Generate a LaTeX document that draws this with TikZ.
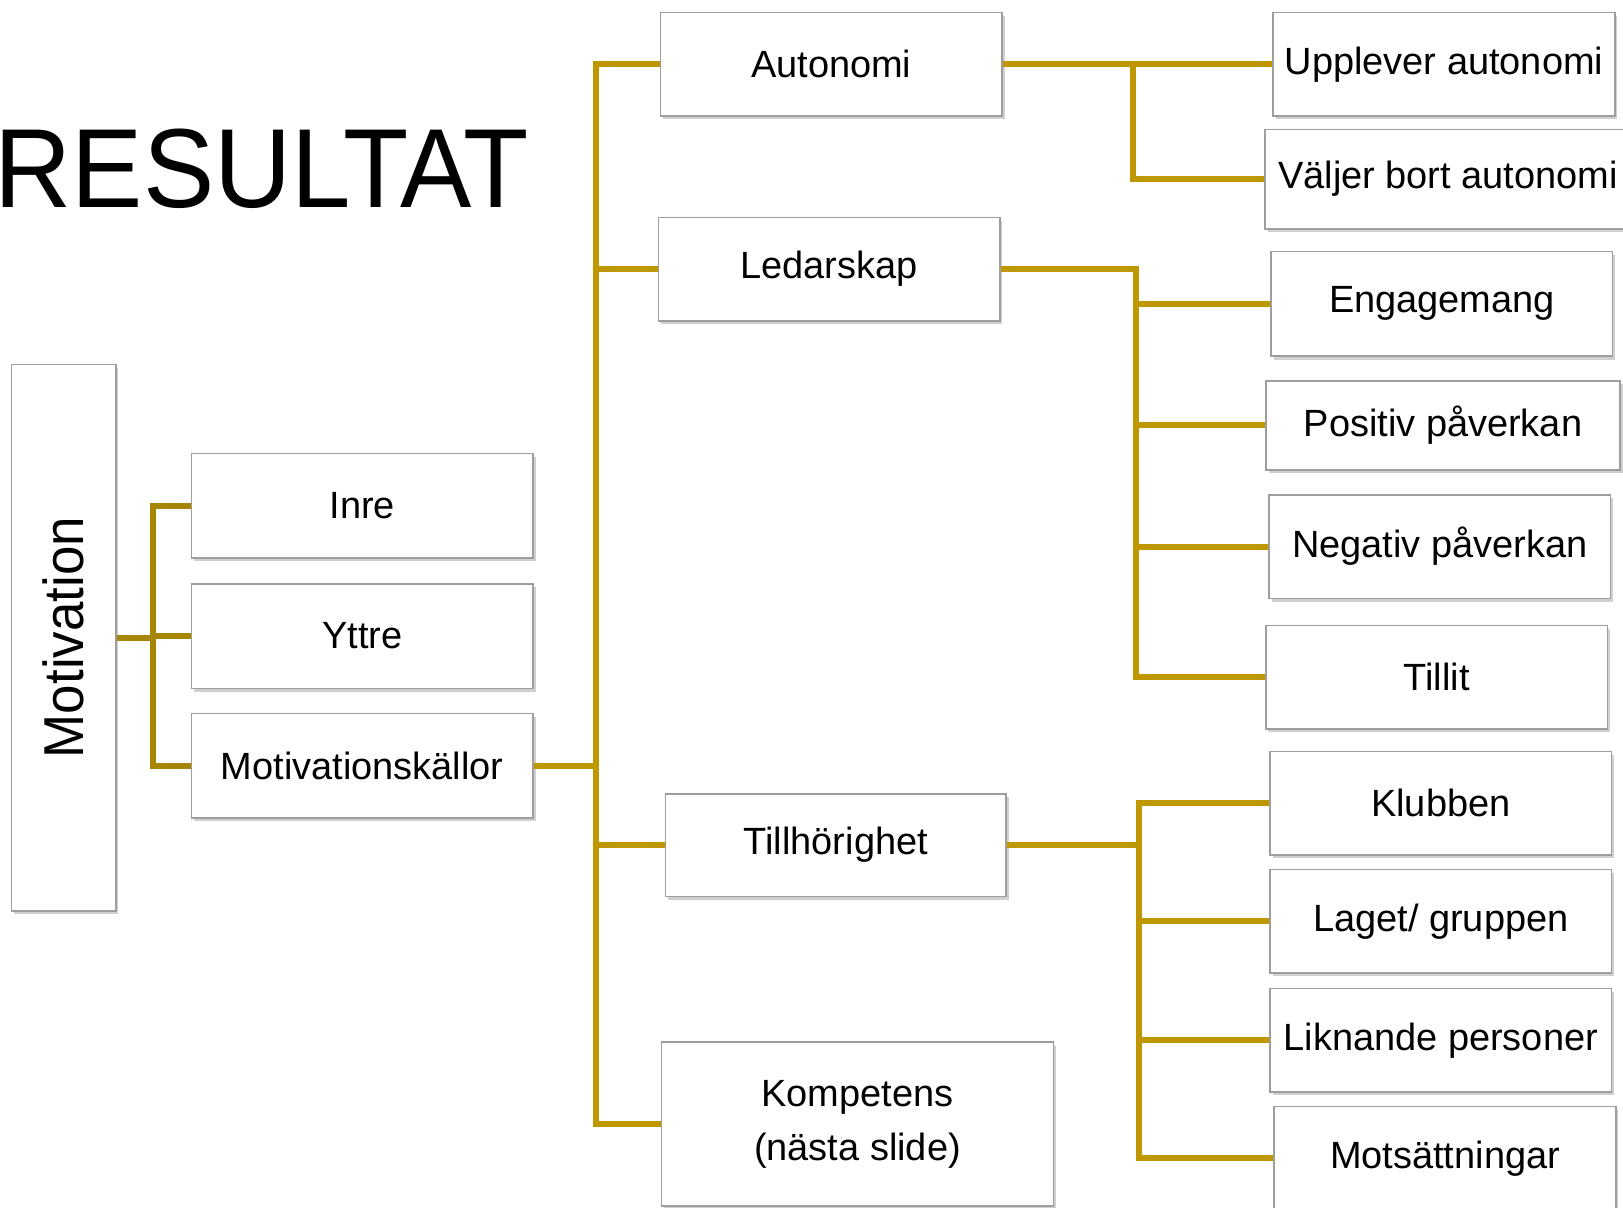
\documentclass[tikz,border=0pt]{standalone}
\usepackage{fontspec}
\setmainfont{Liberation Sans}
\usetikzlibrary{shadows}

\definecolor{linkgold}{RGB}{191,152,0}
\definecolor{linkolive}{RGB}{166,134,0}

\begin{document}
\begin{tikzpicture}[
    x=0.1mm, y=-0.1mm,
    box/.style={draw=black!38, line width=0.15mm, fill=white, inner sep=0pt,
        align=center, font=\fontsize{10.8}{15.3}\selectfont,
        drop shadow={shadow xshift=0.25mm, shadow yshift=-0.35mm,
            opacity=0.3, fill=black!60}},
    size/.style 2 args={minimum width=#1, minimum height=#2},
    link/.style={draw=linkgold, line width=0.6mm},
    innerlink/.style={draw=linkolive, line width=0.6mm}
]

\useasboundingbox (0,0) rectangle (1623,1208);
\fill[white] (0,0) rectangle (1623,1208);

\node[anchor=base west, inner sep=0pt, font=\fontsize{32}{38}\selectfont]
    (title) at (-6,207) {\scalebox{0.95}[1]{RESULTAT}};

% left part
\node[box, size={10.45mm}{54.65mm}] (motivation) at (63.7,637.6)
    {\rotatebox{90}{\fontsize{16}{19}\selectfont\scalebox{0.94}[1]{Motivation}}};
\node[box, size={34.16mm}{10.45mm}] (inre) at (362.3,505.6) {Inre};
\node[box, size={34.16mm}{10.45mm}] (yttre) at (362.3,636) {Yttre};
\node[box, size={34.16mm}{10.45mm}] (kallor) at (362.3,765.5) {Motivationskällor};

% middle column
\node[box, size={34.16mm}{10.35mm}] (auto) at (831.2,64.2) {Autonomi};
\node[box, size={34.16mm}{10.35mm}] (ledar) at (829.1,269.1) {Ledarskap};
\node[box, size={34.05mm}{10.25mm}] (till) at (835.8,845.1) {Tillhörighet};
\node[box, size={39.23mm}{16.37mm}] (komp) at (857.5,1124) {Kompetens\\(nästa slide)};

% right column
\node[box, size={34.16mm}{10.35mm}] (upp) at (1444,64.2) {Upplever autonomi};
\node[box, size={36.6mm}{9.94mm}] (valj) at (1448,179.1) {Väljer bort autonomi};
\node[box, size={34.16mm}{10.46mm}] (eng) at (1441.9,303.8) {Engagemang};
\node[box, size={35.4mm}{8.9mm}] (pos) at (1443,425.4) {Positiv påverkan};
\node[box, size={34.16mm}{10.35mm}] (neg) at (1439.8,546.5) {Negativ påverkan};
\node[box, size={34.16mm}{10.35mm}] (tillit) at (1436.7,677) {Tillit};
\node[box, size={34.16mm}{10.35mm}] (klub) at (1440.8,803.2) {Klubben};
\node[box, size={34.16mm}{10.35mm}] (laget) at (1440.8,921.2) {Laget/ gruppen};
\node[box, size={34.16mm}{10.35mm}] (likn) at (1440.8,1040.2) {Liknande personer};
\node[box, size={34.16mm}{10.35mm}] (mots) at (1445,1158.2) {Motsättningar};

% split points
\coordinate (s1) at (153.2,637.6);
\coordinate (s2) at (596.2,765.5);
\coordinate (s3) at (1133.4,64.2);
\coordinate (s4) at (1135.5,269.1);
\coordinate (s5) at (1138.6,845.1);

\draw[innerlink] (motivation.east) -- (s1);
\draw[innerlink] (inre.west) -| (s1) |- (kallor.west);
\draw[innerlink] (s1 |- yttre.west) -- (yttre.west);

\draw[link] (kallor.east) -- (s2);
\draw[link] (auto.west) -| (s2) |- (komp.west);
\draw[link] (s2 |- ledar.west) -- (ledar.west);
\draw[link] (s2 |- till.west) -- (till.west);

\draw[link] (auto.east) -- (upp.west);
\draw[link] (s3) |- (valj.west);

\draw[link] (ledar.east) -- (s4) |- (tillit.west);
\draw[link] (s4 |- eng.west) -- (eng.west);
\draw[link] (s4 |- pos.west) -- (pos.west);
\draw[link] (s4 |- neg.west) -- (neg.west);

\draw[link] (till.east) -- (s5);
\draw[link] (klub.west) -| (s5) |- (mots.west);
\draw[link] (s5 |- laget.west) -- (laget.west);
\draw[link] (s5 |- likn.west) -- (likn.west);

\end{tikzpicture}
\end{document}
